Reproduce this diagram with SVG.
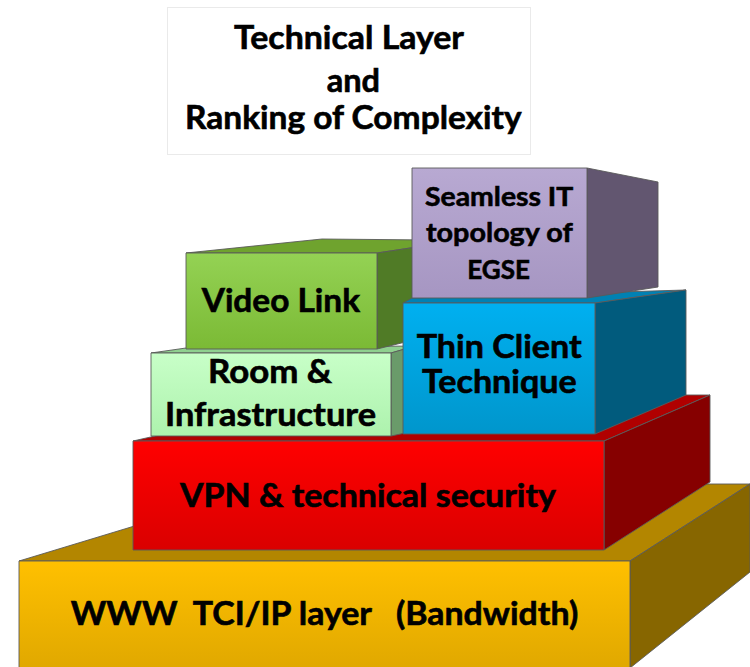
<svg xmlns="http://www.w3.org/2000/svg" width="750" height="667" viewBox="0 0 750 667">
  <defs>
    <linearGradient id="gGold" x1="0" y1="0" x2="0" y2="1">
      <stop offset="0" stop-color="#FFC000"/>
      <stop offset="1" stop-color="#E0A800"/>
    </linearGradient>
    <linearGradient id="gRed" x1="0" y1="0" x2="0" y2="1">
      <stop offset="0" stop-color="#FF0000"/>
      <stop offset="1" stop-color="#DA0000"/>
    </linearGradient>
    <linearGradient id="gRoom" x1="0" y1="0" x2="0" y2="1">
      <stop offset="0" stop-color="#C8FFC8"/>
      <stop offset="1" stop-color="#ADF2AD"/>
    </linearGradient>
    <linearGradient id="gVideo" x1="0" y1="0" x2="0" y2="1">
      <stop offset="0" stop-color="#94D254"/>
      <stop offset="1" stop-color="#7BBA35"/>
    </linearGradient>
    <linearGradient id="gThin" x1="0" y1="0" x2="0" y2="1">
      <stop offset="0" stop-color="#00B0F0"/>
      <stop offset="1" stop-color="#0096CC"/>
    </linearGradient>
    <linearGradient id="gSeam" x1="0" y1="0" x2="0" y2="1">
      <stop offset="0" stop-color="#B8A9D2"/>
      <stop offset="1" stop-color="#A696C2"/>
    </linearGradient>
  </defs>
  <style>
    .edge { stroke: #5a5a5a; stroke-width: 0.9; stroke-linejoin: round; }
    .lbl { font-family: Lato, "Liberation Sans", sans-serif; font-weight: bold; fill: #000; stroke: #000; stroke-width: 0.6; }
    .big { font-size: 32px; }
    .mid { font-size: 27.5px; }
  </style>

  <!-- heading -->
  <g id="title">
    <rect x="167.5" y="7.5" width="363" height="147" fill="#fff" stroke="#d4d4d4" stroke-width="1" stroke-dasharray="1 1"/>
    <text class="lbl big" x="234" y="49.3" textLength="230" lengthAdjust="spacingAndGlyphs">Technical Layer</text>
    <text class="lbl big" x="326.7" y="91.7" textLength="53.3" lengthAdjust="spacingAndGlyphs">and</text>
    <text class="lbl big" x="185" y="128.5" textLength="336.7" lengthAdjust="spacingAndGlyphs">Ranking of Complexity</text>
  </g>

  <!-- base layer -->
  <g id="layer-www">
    <polygon class="edge" fill="#B38600" points="19,561 630,561 750,484 273,484"/>
    <polygon class="edge" fill="#876600" points="630,561 750,484 750,572 630,668"/>
    <rect class="edge" fill="url(#gGold)" x="19" y="561" width="611" height="108"/>
    <text class="lbl big" x="70.7" y="625" textLength="507.6" lengthAdjust="spacingAndGlyphs" xml:space="preserve">WWW  TCI/IP layer   (Bandwidth)</text>
  </g>

  <g id="layer-vpn">
    <polygon class="edge" fill="#B00000" points="133,441 604,441 710,395 336,395"/>
    <polygon class="edge" fill="#860000" points="604,441 710,395 710,482 604,550"/>
    <rect class="edge" fill="url(#gRed)" x="133" y="441" width="471" height="109"/>
    <text class="lbl big" x="180" y="507.3" textLength="376" lengthAdjust="spacingAndGlyphs">VPN &amp; technical security</text>
  </g>

  <g id="layer-room">
    <polygon class="edge" fill="#8FD08F" points="151,353 391,353 415,346 186,348"/>
    <polygon class="edge" fill="#6A9B6A" points="391,353 415,346 415,431 391,436"/>
    <rect class="edge" fill="url(#gRoom)" x="151" y="353" width="240" height="83"/>
    <text class="lbl big" x="208" y="382.7" textLength="124" lengthAdjust="spacingAndGlyphs">Room &amp;</text>
    <text class="lbl big" x="165" y="426" textLength="211" lengthAdjust="spacingAndGlyphs">Infrastructure</text>
  </g>

  <g id="layer-video">
    <polygon class="edge" fill="#6FA32E" points="186,253 377,253 430,245 430,240 322,239"/>
    <polygon class="edge" fill="#507B26" points="377,253 430,245 430,336 377,349"/>
    <rect class="edge" fill="url(#gVideo)" x="186" y="253" width="191" height="96"/>
    <text class="lbl big" x="201.7" y="311.7" textLength="158.3" lengthAdjust="spacingAndGlyphs">Video Link</text>
  </g>

  <g id="layer-thin">
    <polygon class="edge" fill="#0081B3" points="403,303 595,303 686,290 412,298"/>
    <polygon class="edge" fill="#015B7D" points="595,303 686,290 686,395 595,434"/>
    <rect class="edge" fill="url(#gThin)" x="403" y="303" width="192" height="131"/>
    <text class="lbl big" x="416.7" y="358.3" textLength="165" lengthAdjust="spacingAndGlyphs">Thin Client</text>
    <text class="lbl big" x="422" y="393.3" textLength="154.7" lengthAdjust="spacingAndGlyphs">Technique</text>
  </g>

  <g id="layer-seamless">
    <polygon class="edge" fill="#625670" points="587,168 658,182 658,287 587,298"/>
    <rect class="edge" fill="url(#gSeam)" x="412" y="168" width="175" height="130"/>
    <text class="lbl mid" x="425" y="205.7" textLength="148.3" lengthAdjust="spacingAndGlyphs">Seamless IT</text>
    <text class="lbl mid" x="426" y="241.7" textLength="146.7" lengthAdjust="spacingAndGlyphs">topology of</text>
    <text class="lbl mid" x="467.3" y="279" textLength="62.7" lengthAdjust="spacingAndGlyphs">EGSE</text>
  </g>
</svg>
